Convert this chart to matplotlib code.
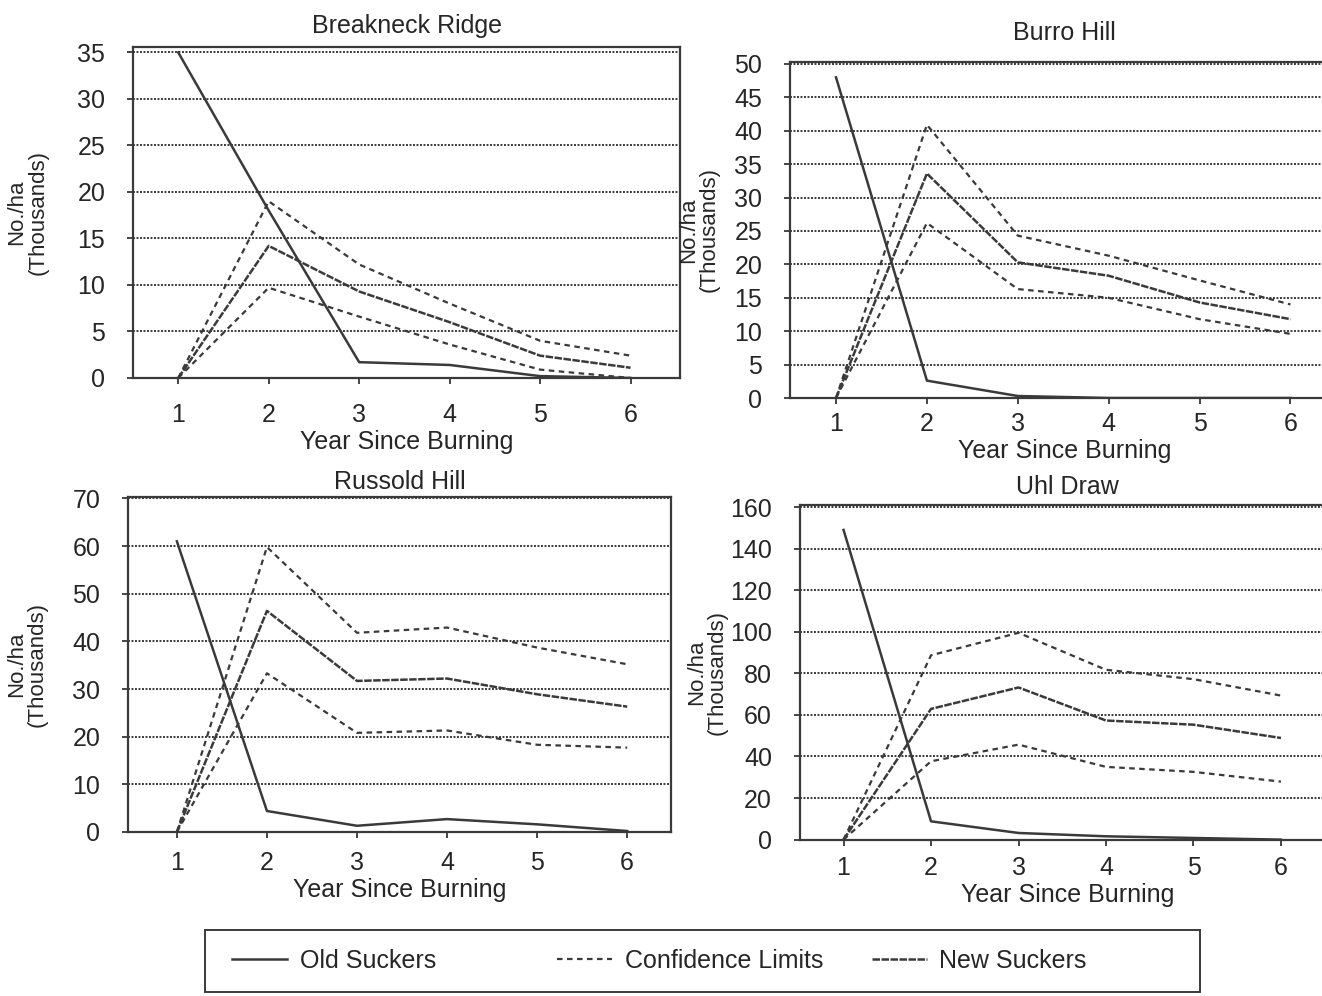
import matplotlib
matplotlib.use("Agg")
from matplotlib import pyplot as plt
from matplotlib.lines import Line2D
from matplotlib.patches import Rectangle

plt.rcParams['font.family'] = ['Liberation Sans', 'DejaVu Sans']

years = [1, 2, 3, 4, 5, 6]

# Breakneck Ridge
bn_old = [35, 18, 1.7, 1.4, 0.2, 0]
bn_new = [0, 14.2, 9.3, 6.0, 2.4, 1.1]
bn_upper = [0, 19, 12.2, 8.0, 4.0, 2.4]
bn_lower = [0, 9.7, 6.6, 3.6, 0.9, 0]

# Burro Hill
bh_old = [48, 2.6, 0.3, 0, 0, 0]
bh_new = [0, 33.6, 20.3, 18.3, 14.3, 11.8]
bh_upper = [0, 40.9, 24.3, 21.3, 17.6, 14.0]
bh_lower = [0, 26.2, 16.3, 15.0, 11.8, 9.6]

# Russold Hill
rh_old = [61, 4.4, 1.3, 2.7, 1.6, 0.2]
rh_new = [0, 46.4, 31.7, 32.2, 28.9, 26.3]
rh_upper = [0, 59.8, 41.8, 42.9, 38.7, 35.2]
rh_lower = [0, 33.3, 20.8, 21.3, 18.3, 17.7]

# Uhl Draw
ud_old = [149, 8.8, 3.2, 1.6, 0.8, 0]
ud_new = [0, 62.9, 73.2, 57.3, 55.3, 48.9]
ud_upper = [0, 88.7, 99.5, 81.7, 77.2, 69.3]
ud_lower = [0, 37.7, 45.7, 35.0, 32.6, 27.9]

legend_labels = ["Old Suckers", "Confidence Limits", "New Suckers"]

ink = '#3a3a3a'
txt = '#262626'
old_style = dict(color=ink, lw=1.8, linestyle='-')
new_style = dict(color=ink, lw=1.8, linestyle=(0, (3, 0.6)))
ci_style = dict(color=ink, lw=1.6, linestyle=(0, (2.5, 2)))

panels = [
    # title, old, new, upper, lower, rect, xlim, ylim, ystep, ylabel x, xpad, title pad
    ("Breakneck Ridge", bn_old, bn_new, bn_upper, bn_lower,
     [0.1006, 0.6205, 0.414, 0.3325], (0.50, 6.55), (0, 35.6), 5, -0.155, 14, 10),
    ("Burro Hill", bh_old, bh_new, bh_upper, bh_lower,
     [0.5976, 0.6004, 0.415, 0.3374], (0.494, 6.53), (0, 50.3), 5, -0.128, 6, 16),
    ("Russold Hill", rh_old, rh_new, rh_upper, rh_lower,
     [0.0968, 0.1647, 0.411, 0.3363], (0.457, 6.49), (0, 70.3), 10, -0.147, 10, 6),
    ("Uhl Draw", ud_old, ud_new, ud_upper, ud_lower,
     [0.605, 0.157, 0.405, 0.336], (0.50, 6.62), (0, 161), 20, -0.134, 8, 8),
]

fig = plt.figure(figsize=(13.22, 9.96), dpi=100)

for title, old, new, upper, lower, rect, xlim, ylim, ystep, ylx, xpad, tpad in panels:
    ax = fig.add_axes(rect)
    yticks = list(range(0, int(ylim[1]) + 1, ystep))
    for yv in yticks[1:]:
        ax.axhline(yv, color=ink, lw=1.4, linestyle=(0, (1, 0.8)), zorder=1)
    ax.plot(years, old, **old_style, zorder=3)
    ax.plot(years, new, **new_style, zorder=3)
    ax.plot(years, upper, **ci_style, zorder=3)
    ax.plot(years, lower, **ci_style, zorder=3)
    ax.set_xlim(*xlim)
    ax.set_ylim(*ylim)
    ax.set_xticks(years)
    ax.set_yticks(yticks)
    ax.tick_params(labelsize=18, colors=txt, length=4, width=1.2,
                   direction='out')
    ax.tick_params(axis='x', pad=xpad)
    ax.tick_params(axis='y', pad=16)
    for s in ax.spines.values():
        s.set_color(ink)
        s.set_linewidth(1.6)
    ax.set_title(title, fontsize=18, color=txt, pad=tpad)
    ax.set_xlabel("Year Since Burning", fontsize=18, color=txt, labelpad=2)
    ax.set_ylabel("No./ha\n(Thousands)", fontsize=16, color=txt,
                  linespacing=1.0)
    ax.yaxis.set_label_coords(ylx, 0.5)

# legend box with three separately placed entries
fig.patches.append(Rectangle((0.155, 0.004), 0.7526, 0.0622, transform=fig.transFigure,
                             fill=False, edgecolor=ink, linewidth=1.4))
for style, label, x in zip([old_style, ci_style, new_style], legend_labels,
                           [0.1664, 0.412, 0.650]):
    fig.legend([Line2D([], [], **style)], [label], loc='center left',
               bbox_to_anchor=(x, 0.035), frameon=False, borderpad=0,
               fontsize=18, handlelength=2.2, handletextpad=0.5,
               labelcolor=txt)

fig.savefig("out.png", dpi=100)
